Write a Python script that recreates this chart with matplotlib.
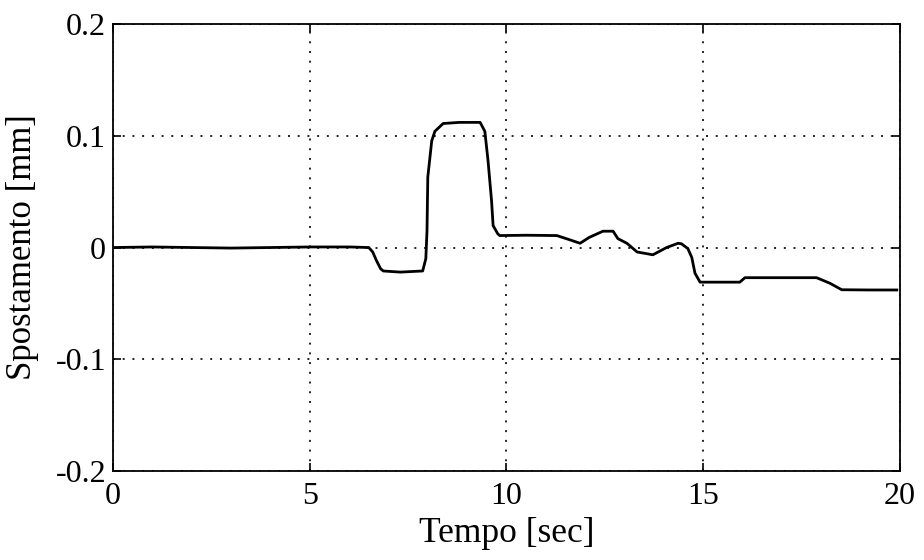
import matplotlib
matplotlib.use("Agg")
import matplotlib.pyplot as plt

# displacement trace (time in s, displacement in mm)
tempo = [0.0, 1.0, 2.0, 3.0, 4.0, 5.0, 6.0, 6.5, 6.6, 6.7, 6.8, 6.87, 7.3, 7.87,
         7.95, 7.98, 8.0, 8.1, 8.18, 8.39, 8.8, 9.33, 9.45, 9.53, 9.62, 9.66,
         9.78, 9.83, 10.5, 11.28, 11.6, 11.87, 12.1, 12.45, 12.71, 12.83, 13.06,
         13.32, 13.72, 14.07, 14.36, 14.45, 14.61, 14.71, 14.79, 14.92, 15.0,
         15.5, 15.93, 16.06, 17.0, 17.88, 18.22, 18.52, 19.2, 19.92]
spostamento = [0.0, 0.0005, 0.0, -0.0005, 0.0, 0.0005, 0.0005, 0.0, -0.004,
               -0.012, -0.019, -0.021, -0.022, -0.021, -0.01, 0.015, 0.063,
               0.0955, 0.104, 0.111, 0.112, 0.112, 0.104, 0.078, 0.042, 0.0196,
               0.0122, 0.0107, 0.011, 0.0107, 0.007, 0.0038, 0.009, 0.0146,
               0.0146, 0.008, 0.0038, -0.004, -0.0065, 0.0, 0.0038, 0.0033,
               -0.001, -0.009, -0.023, -0.031, -0.031, -0.031, -0.031, -0.027,
               -0.027, -0.027, -0.032, -0.0378, -0.038, -0.038]

x_ticks = [0, 5, 10, 15, 20]
y_ticks = [-0.2, -0.1, 0, 0.1, 0.2]
y_tick_labels = ["-0.2", "-0.1", "0", "0.1", "0.2"]

plt.rcParams['font.family'] = ['Liberation Serif', 'DejaVu Serif']

fig = plt.figure(figsize=(9.24, 5.6), dpi=100)
ax = fig.add_axes([0.1223, 0.159, 0.8517, 0.798])

ax.plot(tempo, spostamento, color='black', linewidth=2.0)

ax.set_xlim(0, 20)
ax.set_ylim(-0.2, 0.2)
ax.set_xticks(x_ticks)
ax.set_yticks(y_ticks)
ax.set_yticklabels(y_tick_labels)

ax.grid(True, color='#222222', linestyle=(0, (1, 4)), linewidth=1.4)
ax.tick_params(direction='in', length=6, width=1.2, top=True, right=True,
               labelsize=23)
ax.tick_params(axis='x', pad=8)
ax.tick_params(axis='y', pad=5)
for spine in ax.spines.values():
    spine.set_linewidth(1.3)

ax.set_xlabel('Tempo [sec]', fontsize=25.5, labelpad=4)
ax.set_ylabel('Spostamento [mm]', fontsize=25, labelpad=12)

fig.savefig('out.png', dpi=100)
